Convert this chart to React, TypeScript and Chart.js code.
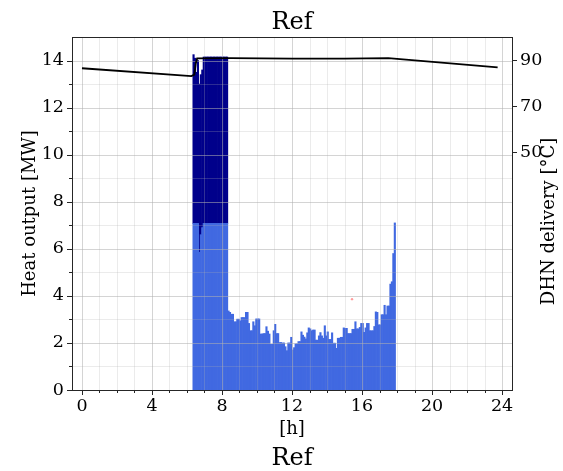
import React, { useEffect, useRef } from 'react';
import { Chart, registerables } from 'chart.js';

Chart.register(...registerables);

const FONT = '"DejaVu Serif", serif';

// 5-minute bins, first bin starts at 06:20
const binStartHour = 6 + 20 / 60;
const binHours = 5 / 60;

// Heat output of unit A (light blue) [MW], one value per 5-min bin
const unitA = [
  7.08, 7.08, 7.08, 7.08, 5.85, 6.6, 6.9, 7.08, 7.08, 7.08, 7.08, 7.08,
  7.08, 7.08, 7.08, 7.08, 7.08, 7.08, 7.08, 7.08, 7.08, 7.08, 7.08, 7.08,
  3.36, 3.3, 3.22, 3.22, 2.9, 2.9, 3.01, 3.01, 2.94, 3.08, 3.08, 3.08,
  3.3, 3.3, 2.83, 2.52, 2.52, 2.9, 2.73, 3.02, 3.02, 3.02, 2.38, 2.38,
  2.4, 2.4, 2.69, 2.5, 2.38, 1.94, 1.94, 2.52, 2.79, 2.4, 2.4, 2.02,
  2.02, 2.0, 2.0, 1.84, 1.67, 2.0, 2.0, 2.24, 1.7, 1.8, 1.96, 1.96,
  2.06, 2.06, 2.47, 2.33, 2.25, 2.17, 2.43, 2.64, 2.6, 2.52, 2.55, 2.55,
  2.12, 2.12, 2.3, 2.44, 2.3, 2.2, 2.73, 2.3, 2.47, 2.15, 2.15, 2.43,
  1.99, 1.99, 1.77, 2.2, 2.2, 2.24, 2.24, 2.64, 2.62, 2.62, 2.4, 2.4,
  2.4, 2.58, 2.58, 2.9, 2.6, 2.6, 2.66, 2.83, 2.83, 2.45, 2.64, 2.83,
  2.83, 2.52, 2.52, 2.52, 2.7, 3.32, 3.3, 2.77, 2.77, 3.2, 3.2, 3.6,
  3.2, 3.57, 3.57, 4.5, 4.6, 5.8, 7.1,
];

// Heat output of unit B (dark blue) [MW], stacked on unit A
const unitB = [
  7.17, 7.02, 6.42, 6.92, 7.15, 6.8, 6.7, 7.07, 7.07, 7.07, 7.07, 7.07,
  7.07, 7.07, 7.07, 7.07, 7.07, 7.07, 7.07, 7.07, 7.07, 7.07, 7.07, 7.07,
];

// DHN delivery temperature [°C]
const tempHours = [0, 6.25, 6.42, 6.5, 6.58, 8.5, 12, 15, 17.5, 23.75];
const tempValues = [86.4, 83.0, 83.6, 88.5, 90.7, 90.8, 90.6, 90.6, 90.8, 86.8];

// single small marker
const markerHours = [15.43];
const markerValues = [3.86];

const xTickValues = [0, 4, 8, 12, 16, 20, 24];
const yTickValues = [0, 2, 4, 6, 8, 10, 12, 14];
const y2TickValues = [50, 70, 90];

const decor = {
  id: 'decor',
  afterDatasetDraw(chart: any, args: any) {
    if (chart.data.datasets[args.index].label !== 'Unit A') return;
    const { ctx, chartArea: a, scales } = chart;
    ctx.save();
    ctx.lineWidth = 1;
    for (let h = 0; h <= 24; h++) {
      const px = Math.round(scales.x.getPixelForValue(h)) + 0.5;
      ctx.strokeStyle = h % 4 === 0 ? 'rgba(176,176,176,0.55)' : 'rgba(176,176,176,0.25)';
      ctx.beginPath();
      ctx.moveTo(px, a.top);
      ctx.lineTo(px, a.bottom);
      ctx.stroke();
    }
    for (let v = 1; v <= 14; v++) {
      const py = Math.round(scales.y.getPixelForValue(v)) + 0.5;
      ctx.strokeStyle = v % 2 === 0 ? 'rgba(176,176,176,0.55)' : 'rgba(176,176,176,0.25)';
      ctx.beginPath();
      ctx.moveTo(a.left, py);
      ctx.lineTo(a.right, py);
      ctx.stroke();
    }
    ctx.restore();
  },
  afterDraw(chart: any) {
    const { ctx, chartArea: a, scales } = chart;
    ctx.save();
    ctx.strokeStyle = '#262626';
    ctx.lineWidth = 1;
    ctx.strokeRect(Math.round(a.left) + 0.5, Math.round(a.top) + 0.5, Math.round(a.right - a.left), Math.round(a.bottom - a.top));
    // tick marks
    for (let h = 0; h <= 24; h++) {
      const px = Math.round(scales.x.getPixelForValue(h)) + 0.5;
      const len = xTickValues.includes(h) ? 5 : 3;
      ctx.beginPath();
      ctx.moveTo(px, a.bottom);
      ctx.lineTo(px, a.bottom + len);
      ctx.stroke();
    }
    for (let v = 0; v <= 14; v++) {
      const py = Math.round(scales.y.getPixelForValue(v)) + 0.5;
      const len = yTickValues.includes(v) ? 5 : 3;
      ctx.beginPath();
      ctx.moveTo(a.left, py);
      ctx.lineTo(a.left - len, py);
      ctx.stroke();
    }
    for (const v of y2TickValues) {
      const py = Math.round(scales.y2.getPixelForValue(v)) + 0.5;
      ctx.beginPath();
      ctx.moveTo(a.right, py);
      ctx.lineTo(a.right + 5, py);
      ctx.stroke();
    }
    // texts
    const cx = (a.left + a.right) / 2;
    ctx.fillStyle = '#000';
    ctx.textAlign = 'center';
    ctx.textBaseline = 'alphabetic';
    ctx.font = `24px ${FONT}`;
    ctx.fillText('Ref', cx, 29);
    ctx.fillText('Ref', cx, 465);
    ctx.font = `18px ${FONT}`;
    ctx.textBaseline = 'middle';
    ctx.fillText('[h]', cx, 429);
    ctx.save();
    ctx.translate(30, (a.top + a.bottom) / 2);
    ctx.rotate(-Math.PI / 2);
    ctx.fillText('Heat output [MW]', 0, 0);
    ctx.restore();
    ctx.save();
    ctx.translate(549, (a.top + a.bottom) / 2 + 8);
    ctx.rotate(-Math.PI / 2);
    ctx.fillText('DHN delivery [°C]', 0, 0);
    ctx.restore();
    ctx.restore();
  },
};

export default function App() {
  const ref = useRef<HTMLCanvasElement>(null);
  useEffect(() => {
    const binCenter = (i: number) => binStartHour + (i + 0.5) * binHours;
    const chart = new Chart(ref.current as HTMLCanvasElement, {
      type: 'bar',
      data: {
        datasets: [
          {
            type: 'line',
            label: 'DHN delivery',
            data: tempHours.map((h, i) => ({ x: h, y: tempValues[i] })),
            yAxisID: 'y2',
            borderColor: '#000',
            borderWidth: 1.9,
            pointRadius: 0,
            tension: 0,
            order: 0,
          } as any,
          {
            type: 'line',
            label: 'Marker',
            data: markerHours.map((h, i) => ({ x: h, y: markerValues[i] })),
            yAxisID: 'y',
            stack: 'marker',
            showLine: false,
            pointRadius: 1.2,
            pointBorderWidth: 0,
            pointBackgroundColor: 'rgba(255,90,90,0.6)',
            order: 0,
          } as any,
          {
            label: 'Unit A',
            data: unitA.map((v, i) => ({ x: binCenter(i), y: v })),
            backgroundColor: '#4169E1',
            borderWidth: 0,
            barPercentage: 1,
            categoryPercentage: 1,
            stack: 'heat',
            yAxisID: 'y',
            order: 1,
          },
          {
            label: 'Unit B',
            data: unitB.map((v, i) => ({ x: binCenter(i), y: v })),
            backgroundColor: '#00008B',
            borderWidth: 0,
            barPercentage: 1,
            categoryPercentage: 1,
            stack: 'heat',
            yAxisID: 'y',
            order: 2,
          },
        ],
      },
      options: {
        responsive: false,
        animation: false,
        layout: { padding: { top: 37, left: 0, right: 0, bottom: 0 } },
        plugins: { legend: { display: false }, tooltip: { enabled: false }, title: { display: false } },
        scales: {
          x: {
            type: 'linear',
            min: -0.57,
            max: 24.57,
            offset: false,
            grid: { display: false, drawTicks: false, tickLength: 0, offset: false },
            border: { display: false },
            afterBuildTicks: (s: any) => { s.ticks = xTickValues.map((v) => ({ value: v })); },
            afterFit: (s: any) => { s.height = 81; },
            ticks: { autoSkip: false, maxRotation: 0, padding: 6, color: '#000', font: { family: FONT, size: 17.5 } },
          },
          y: {
            type: 'linear',
            position: 'left',
            min: 0,
            max: 15,
            stacked: true,
            grid: { display: false, drawTicks: false, tickLength: 0 },
            border: { display: false },
            afterBuildTicks: (s: any) => { s.ticks = yTickValues.map((v) => ({ value: v })); },
            afterFit: (s: any) => { s.width = 72; },
            ticks: { autoSkip: false, padding: 8, color: '#000', font: { family: FONT, size: 17.5 } },
          },
          y2: {
            type: 'linear',
            position: 'right',
            min: -53.5,
            max: 100,
            grid: { display: false, drawTicks: false, tickLength: 0, drawOnChartArea: false },
            border: { display: false },
            afterBuildTicks: (s: any) => { s.ticks = y2TickValues.map((v) => ({ value: v })); },
            afterFit: (s: any) => { s.width = 51; },
            ticks: { autoSkip: false, padding: 8, color: '#000', font: { family: FONT, size: 17.5 } },
          },
        },
      } as any,
      plugins: [decor],
    });
    return () => chart.destroy();
  }, []);
  return (
    <canvas
      ref={ref}
      width={563}
      height={471}
      style={{ position: 'absolute', left: 0, top: 0, width: 563, height: 471, background: '#fff' }}
    />
  );
}
